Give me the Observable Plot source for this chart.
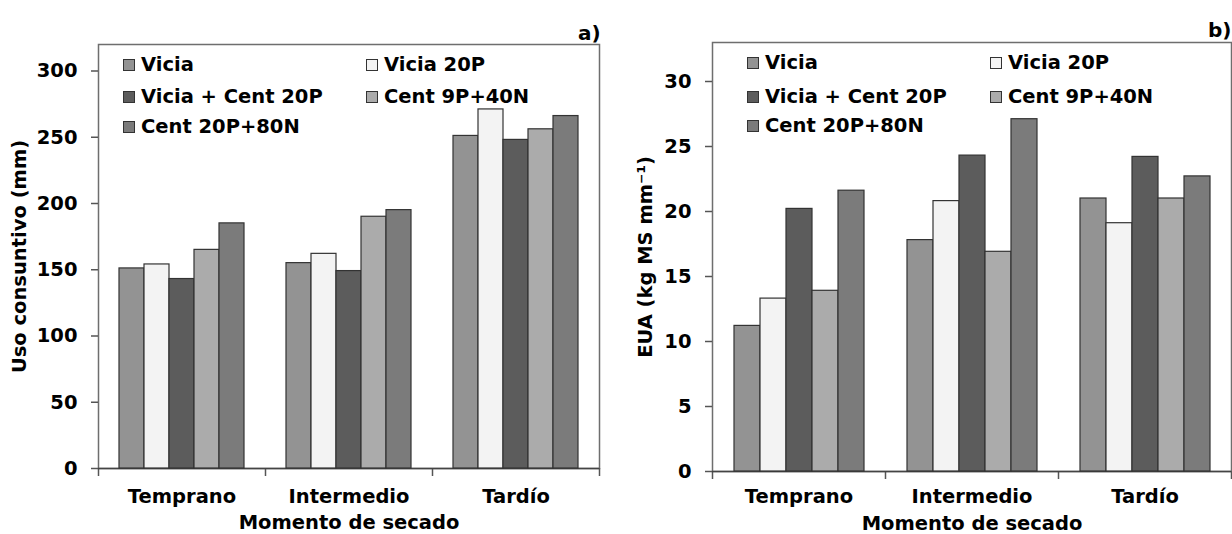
<!DOCTYPE html>
<html><head><meta charset="utf-8">
<script src="https://cdn.jsdelivr.net/npm/d3@7"></script>
<script src="https://cdn.jsdelivr.net/npm/@observablehq/plot@0.6"></script>
<style>
html,body{margin:0;padding:0;background:#fff;}
#root{position:relative;width:1232px;height:534px;overflow:hidden;font-family:"DejaVu Sans",sans-serif;font-weight:bold;color:#000;}
.layer{position:absolute;top:0;}
.legend-item{position:absolute;display:flex;align-items:center;font-size:19.5px;line-height:20px;height:20px;white-space:nowrap;}
.sw{width:10px;height:10px;border:1px solid #333;margin-right:6px;}
.tag{position:absolute;font-size:20px;line-height:20px;}
</style></head><body><div id="root"></div>
<script>
const moments = ["Temprano", "Intermedio", "Tardío"];
const series = ["Vicia", "Vicia 20P", "Vicia + Cent 20P", "Cent 9P+40N", "Cent 20P+80N"];
const colors = ["#939393", "#f3f3f3", "#5c5c5c", "#ababab", "#7b7b7b"];
// values per moment (rows) and series (columns)
const usoConsuntivo = [
  [151, 154, 143, 165, 185],
  [155, 162, 149, 190, 195],
  [251, 271, 248, 256, 266]
];
const eua = [
  [11.2, 13.3, 20.2, 13.9, 21.6],
  [17.8, 20.8, 24.3, 16.9, 27.1],
  [21.0, 19.1, 24.2, 21.0, 22.7]
];
const usoTicks = [0, 50, 100, 150, 200, 250, 300];
const euaTicks = [0, 5, 10, 15, 20, 25, 30];
const xTitle = "Momento de secado";

const panels = [
  {left: 0, width: 616, mL: 98, mR: 17, mT: 44, mB: 66, yMax: 320, ticks: usoTicks, values: usoConsuntivo,
   yLabel: "Uso consuntivo (mm)", yLabelOffset: 86, xLabelOffset: 60, catPad: 21, tag: "a)", tagX: 578, tagY: 23,
   legX: [123, 366], legY: [65, 96.7, 127.3]},
  {left: 616, width: 616, mL: 96, mR: 1, mT: 42, mB: 63, yMax: 33, ticks: euaTicks, values: eua,
   yLabel: "EUA (kg MS mm⁻¹)", yLabelOffset: 74, xLabelOffset: 58, catPad: 18, tag: "b)", tagX: 1208, tagY: 20,
   legX: [747, 990], legY: [63.3, 96.7, 126]}
];

const root = document.getElementById("root");
const font = {fontFamily: "DejaVu Sans", fontWeight: "bold", fontSize: "19.5px", color: "#000", overflow: "visible"};

for (const p of panels) {
  const rows = moments.flatMap((m, i) => series.map((s, j) => ({moment: m, series: s, value: p.values[i][j]})));
  const common = {width: p.width, height: 534, marginLeft: p.mL, marginRight: p.mR, marginTop: p.mT, marginBottom: p.mB};

  const axes = Plot.plot({
    ...common,
    style: {...font, background: "white"},
    x: {domain: [0, moments.length], axis: null},
    y: {domain: [0, p.yMax], axis: null},
    marks: [
      Plot.frame({stroke: "#6e6e6e", strokeWidth: 1.5}),
      Plot.axisX({ticks: d3.range(moments.length + 1), tickSize: 8, tickFormat: () => "", stroke: "#555", strokeWidth: 1.5,
        label: xTitle, labelAnchor: "center", labelArrow: "none", labelOffset: p.xLabelOffset}),
      Plot.axisY({ticks: p.ticks, tickSize: 7, tickPadding: 14, stroke: "#555", strokeWidth: 1.5,
        label: p.yLabel, labelAnchor: "center", labelArrow: "none", labelOffset: p.yLabelOffset}),
      Plot.ruleY([0], {stroke: "#444", strokeWidth: 1.5})
    ]
  });
  const bars = Plot.plot({
    ...common,
    style: {...font, background: "transparent"},
    fx: {domain: moments, padding: 0},
    x: {domain: series, paddingInner: 0, paddingOuter: 0.75, axis: null},
    y: {domain: [0, p.yMax], axis: null},
    color: {domain: series, range: colors},
    marks: [
      Plot.barY(rows, {fx: "moment", x: "series", y: "value", fill: "series", stroke: "#333", strokeWidth: 1.2}),
      Plot.axisFx({anchor: "bottom", tickSize: 0, tickPadding: p.catPad, label: null})
    ]
  });
  for (const el of [axes, bars]) {
    const d = document.createElement("div");
    d.className = "layer";
    d.style.left = p.left + "px";
    d.appendChild(el);
    root.appendChild(d);
  }
  series.forEach((s, i) => {
    const item = document.createElement("div");
    item.className = "legend-item";
    item.style.left = p.legX[i % 2] + "px";
    item.style.top = (p.legY[Math.floor(i / 2)] - 10) + "px";
    const sw = document.createElement("span");
    sw.className = "sw";
    sw.style.background = colors[i];
    item.appendChild(sw);
    item.appendChild(document.createTextNode(s));
    root.appendChild(item);
  });
  const tag = document.createElement("div");
  tag.className = "tag";
  tag.style.left = p.tagX + "px";
  tag.style.top = p.tagY + "px";
  tag.textContent = p.tag;
  root.appendChild(tag);
}
</script></body></html>
